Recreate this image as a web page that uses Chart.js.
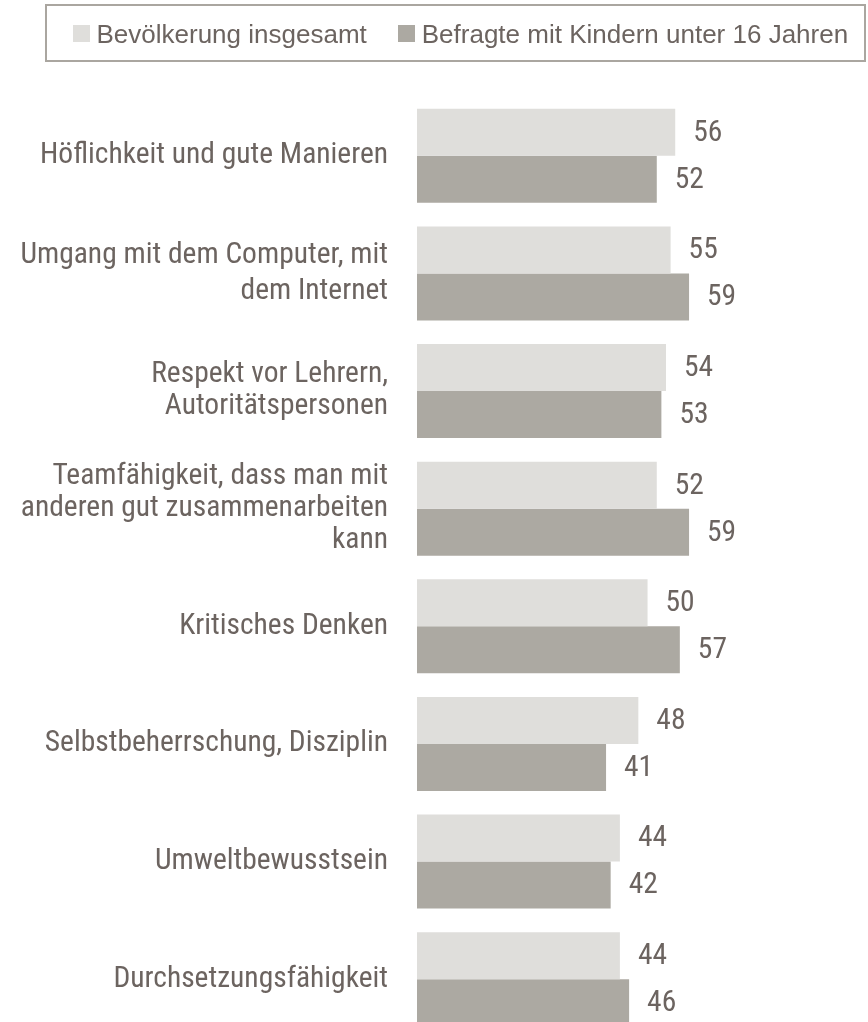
<!DOCTYPE html>
<html>
<head>
<meta charset="utf-8">
<script src="https://cdn.jsdelivr.net/npm/chart.js@4/dist/chart.umd.min.js"></script>
<style>
html,body{margin:0;padding:0;background:#fff;overflow:hidden;width:868px;height:1022px;}
#wrap{position:absolute;left:0;top:0;width:868px;height:1054px;}
#legend{position:absolute;left:45px;top:4px;width:821px;height:58px;box-sizing:border-box;border:2.5px solid #aaa6a0;z-index:2;
  display:flex;align-items:center;padding-left:25.5px;font-family:"Liberation Sans",Arial,sans-serif;font-size:26px;color:#6c6460;white-space:nowrap;}
.sq{display:inline-block;width:17px;height:17px;margin-right:7px;flex:none;}
.it{display:flex;align-items:center;margin-right:31px;}
.tx{position:relative;top:1px;}
</style>
</head>
<body>
<div id="wrap"><canvas id="c" width="868" height="1054"></canvas></div>
<div id="legend"></div>
<script>
const categories = [
  ["Höflichkeit und gute Manieren"],
  ["Umgang mit dem Computer, mit", "dem Internet"],
  ["Respekt vor Lehrern,", "Autoritätspersonen"],
  ["Teamfähigkeit, dass man mit", "anderen gut zusammenarbeiten", "kann"],
  ["Kritisches Denken"],
  ["Selbstbeherrschung, Disziplin"],
  ["Umweltbewusstsein"],
  ["Durchsetzungsfähigkeit"]
];
const seriesNames = ["Bevölkerung insgesamt", "Befragte mit Kindern unter 16 Jahren"];
const totalValues = [56, 55, 54, 52, 50, 48, 44, 44];
const parentValues = [52, 59, 53, 59, 57, 41, 42, 46];
const seriesColors = ["#dfdedb", "#aca9a2"];
const textColor = "#6c6460";
const narrowFamily = '"Roboto Condensed", "Liberation Sans Narrow", sans-serif';

const legendEl = document.getElementById('legend');
seriesNames.forEach((name, i) => {
  const it = document.createElement('div');
  it.className = 'it';
  const sq = document.createElement('span');
  sq.className = 'sq';
  sq.style.background = seriesColors[i];
  const tx = document.createElement('span');
  tx.className = 'tx';
  tx.textContent = name;
  it.appendChild(sq); it.appendChild(tx);
  legendEl.appendChild(it);
});

const valueLabels = {
  id: 'valueLabels',
  afterDatasetsDraw(chart) {
    const ctx = chart.ctx;
    ctx.save();
    ctx.font = '29.5px ' + narrowFamily;
    ctx.fillStyle = textColor;
    ctx.textAlign = 'left';
    ctx.textBaseline = 'middle';
    chart.data.datasets.forEach((ds, di) => {
      const meta = chart.getDatasetMeta(di);
      meta.data.forEach((el, i) => {
        ctx.fillText(String(ds.data[i]), el.x + 18, el.y + 1);
      });
    });
    ctx.restore();
  }
};

new Chart(document.getElementById('c'), {
  type: 'bar',
  data: {
    labels: categories,
    datasets: [
      { label: seriesNames[0], data: totalValues, backgroundColor: seriesColors[0], borderWidth: 0, categoryPercentage: 0.8, barPercentage: 1.0 },
      { label: seriesNames[1], data: parentValues, backgroundColor: seriesColors[1], borderWidth: 0, categoryPercentage: 0.8, barPercentage: 1.0 }
    ]
  },
  options: {
    indexAxis: 'y',
    responsive: false,
    animation: false,
    devicePixelRatio: 1,
    layout: { padding: { top: 97, bottom: 0, left: 0, right: 36 } },
    plugins: { legend: { display: false }, tooltip: { enabled: false } },
    scales: {
      x: { display: false, min: 0, max: 90 },
      y: {
        grid: { display: true, drawOnChartArea: false, drawTicks: true, tickLength: 29, color: 'rgba(0,0,0,0)' },
        border: { display: false },
        afterFit(scale) { scale.width = 417; },
        ticks: {
          autoSkip: false,
          padding: 0,
          color: textColor,
          font: (c) => ({ family: narrowFamily, size: 29.5, lineHeight: c.index === 1 ? '36.5px' : '32px' })
        }
      }
    }
  },
  plugins: [valueLabels]
});
</script>
</body>
</html>
